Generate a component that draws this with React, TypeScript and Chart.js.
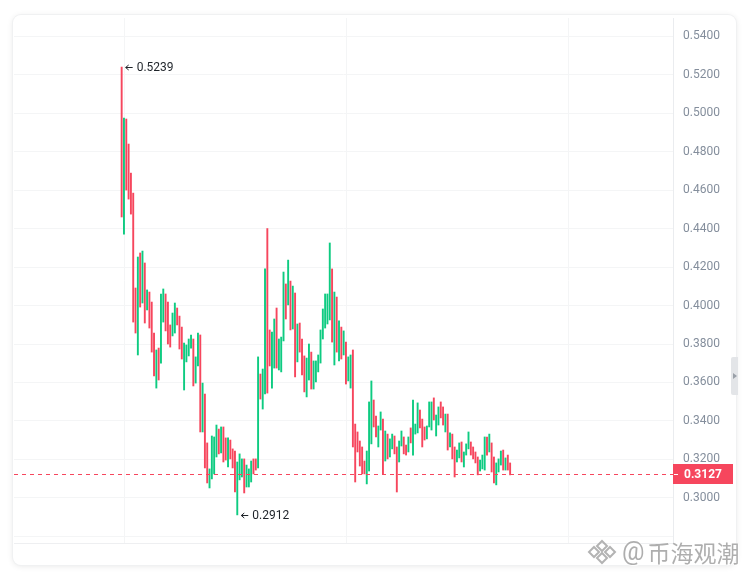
import { useEffect, useRef } from "react"
import { Chart, registerables } from "chart.js"

Chart.register(...registerables)

// candle ranges (one entry per candle, oldest first)
const highs = [
  0.5239, 0.4974, 0.4969, 0.4839, 0.4688, 0.4584, 0.4091, 0.4252, 0.4273, 0.4283,
  0.4221, 0.4081, 0.407, 0.4018, 0.3857, 0.3769, 0.3779, 0.406, 0.4086, 0.406,
  0.4018, 0.3899, 0.3961, 0.4013, 0.3987, 0.3945, 0.3888, 0.3805, 0.3795, 0.3826,
  0.3847, 0.3826, 0.3733, 0.3857, 0.3847, 0.3597, 0.354, 0.3286, 0.3151, 0.3322,
  0.3317, 0.3379, 0.3358, 0.3369, 0.3369, 0.3312, 0.3312, 0.3301, 0.3255, 0.3244,
  0.3187, 0.3229, 0.3203, 0.3203, 0.3171, 0.3151, 0.3192, 0.3203, 0.3203, 0.3733,
  0.3644, 0.367, 0.419, 0.44, 0.3873, 0.3862, 0.393, 0.3987, 0.3826, 0.3836,
  0.4174, 0.4112, 0.4236, 0.4127, 0.4101, 0.4065, 0.3904, 0.3909, 0.3826, 0.3738,
  0.3727, 0.38, 0.3758, 0.3712, 0.3712, 0.3743, 0.3873, 0.3982, 0.406, 0.406,
  0.4325, 0.419, 0.407, 0.4044, 0.392, 0.3888, 0.3868, 0.381, 0.3733, 0.3743,
  0.3769, 0.3384, 0.3343, 0.3296, 0.3265, 0.3192, 0.3244, 0.3499, 0.3608, 0.3509,
  0.3426, 0.3374, 0.3447, 0.341, 0.3348, 0.3332, 0.3307, 0.3332, 0.3322, 0.3265,
  0.3296, 0.3348, 0.3317, 0.3275, 0.3317, 0.3364, 0.3509, 0.3384, 0.3494, 0.3457,
  0.341, 0.3369, 0.3374, 0.3499, 0.3499, 0.352, 0.3431, 0.3473, 0.3499, 0.3473,
  0.3436, 0.3436, 0.3338, 0.3332, 0.3265, 0.3249, 0.3286, 0.3291, 0.3239, 0.3281,
  0.3343, 0.3291, 0.3265, 0.3239, 0.3213, 0.3197, 0.3223, 0.3317, 0.3317, 0.3332,
  0.3286, 0.3213, 0.3182, 0.3203, 0.3244, 0.3249, 0.3208, 0.3223, 0.3182,
]
const lows = [
  0.446, 0.4371, 0.46, 0.4553, 0.4475, 0.3914, 0.3857, 0.3743, 0.3992, 0.4013,
  0.3909, 0.3977, 0.3883, 0.3758, 0.3634, 0.3571, 0.3613, 0.3701, 0.3914, 0.3868,
  0.38, 0.3784, 0.3842, 0.3857, 0.3899, 0.3774, 0.3722, 0.3561, 0.3707, 0.3738,
  0.3779, 0.3582, 0.3597, 0.3686, 0.3343, 0.3343, 0.3156, 0.3078, 0.3052, 0.3099,
  0.3125, 0.3213, 0.3229, 0.3234, 0.3187, 0.3197, 0.3161, 0.3203, 0.3156, 0.3031,
  0.2912, 0.3094, 0.3109, 0.3026, 0.3057, 0.3057, 0.3083, 0.3125, 0.3145, 0.3156,
  0.3514, 0.3462, 0.354, 0.3545, 0.3686, 0.3571, 0.3675, 0.3675, 0.3665, 0.3655,
  0.3816, 0.393, 0.4003, 0.3873, 0.3878, 0.3629, 0.3707, 0.3758, 0.3639, 0.3551,
  0.3525, 0.3613, 0.3566, 0.3566, 0.3603, 0.3655, 0.3701, 0.3826, 0.3883, 0.3904,
  0.3925, 0.381, 0.3691, 0.3758, 0.3712, 0.3722, 0.3743, 0.3592, 0.3608, 0.3571,
  0.3265, 0.3083, 0.3239, 0.3166, 0.3125, 0.3125, 0.3073, 0.314, 0.3281, 0.3369,
  0.3317, 0.3265, 0.3353, 0.3125, 0.3192, 0.3203, 0.3213, 0.3255, 0.3229, 0.3031,
  0.3187, 0.327, 0.3229, 0.3223, 0.3239, 0.3286, 0.3223, 0.3332, 0.3338, 0.3364,
  0.3265, 0.3301, 0.3307, 0.3369, 0.3353, 0.3405, 0.3322, 0.3379, 0.3416, 0.3379,
  0.3343, 0.3249, 0.3265, 0.3203, 0.3109, 0.3187, 0.3208, 0.3187, 0.3161, 0.3223,
  0.3255, 0.3223, 0.3203, 0.3182, 0.312, 0.314, 0.3151, 0.3145, 0.3223, 0.3239,
  0.3135, 0.3078, 0.3068, 0.3135, 0.3171, 0.3145, 0.3145, 0.3145, 0.312,
]
// 1 = rising (green) candle, 0 = falling (red)
const rising = [
  0, 1, 0, 0, 0, 0, 0, 1, 0, 1, 0, 1, 0, 0, 0, 1, 0, 1, 1, 0,
  0, 0, 1, 1, 0, 0, 0, 1, 1, 1, 1, 0, 1, 1, 0, 1, 0, 0, 1, 1,
  1, 1, 0, 1, 0, 0, 1, 0, 0, 0, 1, 1, 1, 0, 1, 1, 1, 0, 0, 1,
  0, 1, 1, 0, 0, 1, 1, 0, 1, 1, 1, 0, 1, 0, 1, 0, 1, 0, 0, 0,
  1, 1, 0, 1, 1, 1, 1, 1, 1, 1, 1, 0, 1, 0, 1, 0, 1, 0, 1, 1,
  0, 0, 0, 0, 0, 0, 1, 1, 1, 0, 0, 1, 1, 0, 1, 0, 1, 1, 0, 0,
  1, 1, 0, 0, 1, 0, 1, 1, 1, 0, 0, 0, 1, 1, 1, 0, 1, 1, 0, 0,
  1, 0, 1, 0, 0, 1, 1, 0, 1, 1, 1, 0, 0, 0, 0, 1, 1, 1, 0, 1,
  0, 0, 1, 1, 1, 0, 1, 0, 0,
]
const lastPrice = 0.3127
const priceTicks = [0.28, 0.3, 0.32, 0.34, 0.36, 0.38, 0.4, 0.42, 0.44, 0.46, 0.48, 0.5, 0.52, 0.54]
const dayGridIdx = [1.4, 97.4, 193.4]

const UP = "#0ECB81"
const DOWN = "#F6465D"
const GRID = "#F4F5F6"
const FONT = "Roboto, Arial, sans-serif"

const overlayPlugin = {
  id: "overlay",
  afterDatasetsDraw(chart: Chart) {
    const { ctx, chartArea } = chart
    const x = chart.scales.x
    const y = chart.scales.y

    // last price dashed line
    const yl = Math.round(y.getPixelForValue(lastPrice)) + 0.5
    ctx.save()
    ctx.strokeStyle = DOWN
    ctx.lineWidth = 1
    ctx.setLineDash([4, 4])
    ctx.beginPath()
    ctx.moveTo(chartArea.left, yl)
    ctx.lineTo(chartArea.right, yl)
    ctx.stroke()
    ctx.setLineDash([])

    // high / low markers
    const hiIdx = highs.indexOf(Math.max(...highs))
    const loIdx = lows.indexOf(Math.min(...lows))
    const marks: [number, number][] = [
      [hiIdx, highs[hiIdx]],
      [loIdx, lows[loIdx]],
    ]
    ctx.font = `12px ${FONT}`
    ctx.fillStyle = "#1E2329"
    ctx.strokeStyle = "#1E2329"
    ctx.textBaseline = "middle"
    ctx.textAlign = "left"
    for (const [i, v] of marks) {
      const px = x.getPixelForValue(i)
      const py = Math.round(y.getPixelForValue(v)) + 0.5
      ctx.beginPath()
      ctx.moveTo(px + 4, py)
      ctx.lineTo(px + 11, py)
      ctx.moveTo(px + 4, py)
      ctx.lineTo(px + 7, py - 2.5)
      ctx.moveTo(px + 4, py)
      ctx.lineTo(px + 7, py + 2.5)
      ctx.stroke()
      ctx.fillText(v.toFixed(4), px + 15, py + 0.5)
    }
    ctx.restore()
  },
  afterDraw(chart: Chart) {
    const { ctx, chartArea } = chart
    const y = chart.scales.y
    const yl = Math.round(y.getPixelForValue(lastPrice))
    ctx.save()
    ctx.fillStyle = DOWN
    ctx.fillRect(chartArea.right, yl - 10, 60, 20)
    ctx.strokeStyle = "#FFFFFF"
    ctx.lineWidth = 1
    ctx.beginPath()
    ctx.moveTo(chartArea.right + 1, yl + 0.5)
    ctx.lineTo(chartArea.right + 5, yl + 0.5)
    ctx.stroke()
    ctx.fillStyle = "#FFFFFF"
    ctx.font = `bold 12px ${FONT}`
    ctx.textBaseline = "middle"
    ctx.textAlign = "left"
    ctx.fillText(lastPrice.toFixed(4), chartArea.right + 11, yl + 1)
    ctx.restore()
  },
}

function CandleChart() {
  const chartRef = useRef<HTMLCanvasElement | null>(null)
  const chartInstance = useRef<Chart | null>(null)

  useEffect(() => {
    if (!chartRef.current) return
    if (chartInstance.current) chartInstance.current.destroy()

    chartInstance.current = new Chart(chartRef.current, {
      type: "bar",
      data: {
        datasets: [
          {
            data: highs.map((h, i) => ({ x: i, y: [lows[i], h] })) as any,
            backgroundColor: rising.map((r) => (r ? UP : DOWN)),
            borderWidth: 0,
            borderSkipped: false,
            barThickness: 1.25,
            grouped: false,
          },
        ],
      },
      options: {
        responsive: false,
        animation: false,
        layout: { padding: { left: 1, top: 3, right: 0, bottom: 22 } },
        plugins: {
          legend: { display: false },
          tooltip: { enabled: false },
        },
        scales: {
          x: {
            type: "linear",
            min: -46.56,
            max: 238.44,
            offset: false,
            afterBuildTicks: (axis: any) => {
              axis.ticks = dayGridIdx.map((v) => ({ value: v }))
            },
            afterFit: (axis: any) => {
              axis.height = 0
              axis.paddingLeft = 0
              axis.paddingRight = 0
            },
            ticks: { display: false },
            grid: { color: GRID, drawTicks: false, offset: false },
            border: { color: "#EEEFF1" },
          },
          y: {
            position: "right",
            min: 0.2766,
            max: 0.5494,
            afterBuildTicks: (axis: any) => {
              axis.ticks = priceTicks.map((v) => ({ value: v }))
            },
            afterFit: (axis: any) => {
              axis.width = 63
              axis.paddingTop = 0
              axis.paddingBottom = 0
            },
            ticks: {
              padding: 10,
              color: "#848E9C",
              font: { size: 12, family: FONT },
              callback: (v: any) => (Number(v) >= 0.299 ? Number(v).toFixed(4) : ""),
            },
            grid: { color: GRID, drawTicks: false },
            border: { color: "#EAECEF" },
          },
        },
      },
      plugins: [overlayPlugin],
    })

    return () => {
      if (chartInstance.current) {
        chartInstance.current.destroy()
        chartInstance.current = null
      }
    }
  }, [])

  return <canvas ref={chartRef} width={723} height={550} style={{ display: "block", width: 723, height: 550 }} />
}

export default function App() {
  return (
    <div style={{ position: "absolute", left: 0, top: 0, width: 751, height: 578, background: "#fff", overflow: "hidden" }}>
      <div
        style={{
          position: "absolute",
          left: 13,
          top: 15,
          width: 723,
          height: 550,
          borderRadius: 8,
          background: "#fff",
          boxShadow: "0 0 0 1px #F0F1F2, 0 1px 6px rgba(0,0,0,0.10)",
          overflow: "hidden",
        }}
      >
        <CandleChart />
      </div>
      <div
        style={{
          position: "absolute",
          left: 731,
          top: 357,
          width: 7,
          height: 38,
          background: "#E3E5E8",
          borderRadius: "2px 0 0 2px",
        }}
      >
        <div
          style={{
            position: "absolute",
            left: 2,
            top: 16,
            width: 0,
            height: 0,
            borderTop: "3px solid transparent",
            borderBottom: "3px solid transparent",
            borderLeft: "4px solid #9AA0A8",
          }}
        />
      </div>
      <div
        style={{
          position: "absolute",
          left: 587,
          top: 537,
          display: "flex",
          alignItems: "center",
          color: "rgba(140,140,140,0.7)",
          textShadow: "0 0 2px #fff, 1px 1px 1px rgba(255,255,255,0.9)",
          fontFamily: "'Noto Sans CJK SC', sans-serif",
          fontSize: 23,
          lineHeight: "30px",
          whiteSpace: "nowrap",
        }}
      >
        <svg width="30" height="28" viewBox="0 0 30 28" style={{ marginRight: 5 }}>
          <g fill="none" stroke="rgba(160,160,160,0.8)" strokeWidth="2">
            <path d="M15 3 L20 8 L15 13 L10 8 Z" />
            <path d="M15 15 L20 20 L15 25 L10 20 Z" />
            <path d="M7 9 L12 14 L7 19 L2 14 Z" />
            <path d="M23 9 L28 14 L23 19 L18 14 Z" />
          </g>
        </svg>
        <span style={{ fontFamily: "Roboto, sans-serif", fontSize: 25, marginRight: 3 }}>@</span>
        <span>币海观潮</span>
      </div>
    </div>
  )
}
